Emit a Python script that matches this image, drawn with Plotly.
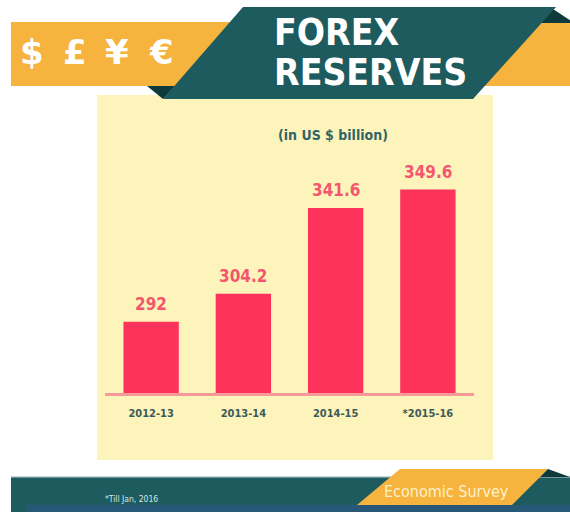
import plotly.graph_objects as go

# ---- data ----
categories = ["2012-13", "2013-14", "2014-15", "*2015-16"]
reserves = [292, 304.2, 341.6, 349.6]
symbols = ["$", "£", "¥", "€"]
title_lines = ["FOREX", "RESERVES"]
unit_label = "(in US $ billion)"
footnote = "*Till Jan, 2016"
source = "Economic Survey"

W, H = 570, 512
TEAL = "#1d5b5e"
DARK = "#0e3a3b"
ORANGE = "#f6b33d"
PANEL = "#fdf4bb"
BAR = "#fe335b"
LABEL_RED = "#f4566e"
NARROW = "DejaVu Sans Condensed, Liberation Sans Narrow, sans-serif"


def px(x):
    return x / W


def py(y):
    return 1 - y / H


def poly(points, color):
    d = "M " + " L ".join(f"{px(x):.5f},{py(y):.5f}" for x, y in points) + " Z"
    return dict(type="path", xref="paper", yref="paper", path=d,
                fillcolor=color, line=dict(width=0), layer="below")


def rect(x0, y0, x1, y1, color, layer="below"):
    return dict(type="rect", xref="paper", yref="paper",
                x0=px(x0), x1=px(x1), y0=py(y1), y1=py(y0),
                fillcolor=color, line=dict(width=0), layer=layer)


shapes = [
    rect(97, 95, 493, 460, PANEL),
    rect(11, 22, 570, 86, ORANGE),
    poly([(147, 86), (175, 86), (163, 99)], DARK),
    poly([(550, 7), (571, 21), (571, 23), (541, 23)], DARK),
    poly([(243, 7), (556, 7), (473, 99), (163, 99)], TEAL),
    # bottom band
    rect(11, 477, 570, 512, TEAL),
    rect(11, 476, 570, 477.5, "#c9d3d3"),
    poly([(400, 469), (548, 469), (512, 505), (357, 505)], ORANGE),
    poly([(548, 469), (570, 477), (540, 477)], DARK),
    rect(27, 505, 570, 512, "#275878"),
]

fig = go.Figure(
    go.Bar(x=categories, y=reserves, marker=dict(color=BAR, line=dict(width=0)),
           width=0.6, hoverinfo="skip")
)

annotations = []
for cat, val in zip(categories, reserves):
    annotations.append(dict(x=cat, y=val, xref="x", yref="y", text=f"<b>{val:g}</b>",
                            showarrow=False, yanchor="bottom", yshift=6,
                            font=dict(family=NARROW, size=17, color=LABEL_RED)))

sym_x = [32, 75, 117, 161]
for s, sx in zip(symbols, sym_x):
    annotations.append(dict(x=px(sx), y=py(52), xref="paper", yref="paper", text=f"<b>{s}</b>",
                            showarrow=False, xanchor="center", yanchor="middle",
                            font=dict(family="DejaVu Sans, sans-serif",
                                      size=34, color="white")))

for line, cy in zip(title_lines, [32, 72]):
    annotations.append(dict(x=px(272), y=py(cy), xref="paper", yref="paper",
                            text=f"<b>{line}</b>", showarrow=False,
                            xanchor="left", yanchor="middle",
                            font=dict(family=NARROW, size=37, color="white")))

annotations += [
    dict(x=px(333), y=py(135), xref="paper", yref="paper", text=f"<b>{unit_label}</b>",
         showarrow=False, xanchor="center", yanchor="middle",
         font=dict(family=NARROW, size=14, color="#2f6566")),
    dict(x=px(131), y=py(499), xref="paper", yref="paper", text=footnote,
         showarrow=False, xanchor="center", yanchor="middle",
         font=dict(family=NARROW, size=8.5, color="#d8e6e6")),
    dict(x=px(446), y=py(491), xref="paper", yref="paper", text=source,
         showarrow=False, xanchor="center", yanchor="middle",
         font=dict(family=NARROW, size=16, color="#fdf1cc")),
]

fig.update_layout(
    width=W, height=H, autosize=False,
    margin=dict(l=0, r=0, t=0, b=0),
    paper_bgcolor="white", plot_bgcolor="rgba(0,0,0,0)",
    showlegend=False, bargap=0.4,
    shapes=shapes, annotations=annotations,
    xaxis=dict(domain=[px(105), px(474)], showgrid=False, zeroline=False,
               showline=True, linecolor="#f59a98", linewidth=3,
               ticks="", ticklabelstandoff=8,
               tickfont=dict(family=NARROW, size=11, color="#3d5a5a"),
               tickprefix="<b>", ticksuffix="</b>",
               fixedrange=True),
    yaxis=dict(domain=[py(393), py(150)], range=[261, 366.8], visible=False,
               fixedrange=True),
)

fig.write_html("out.html", config={"displayModeBar": False},
               post_script="document.body.style.margin='0';")
